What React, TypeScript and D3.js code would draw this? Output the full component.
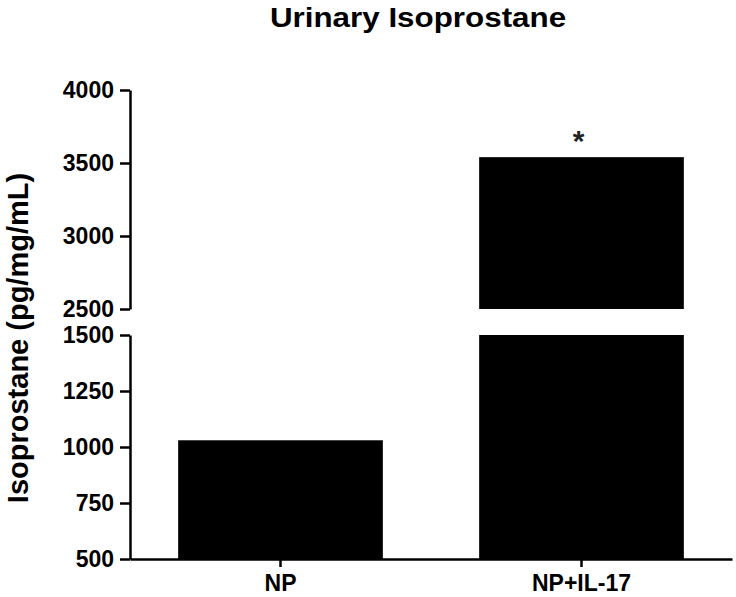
import { useEffect, useRef } from "react";
import * as d3 from "d3";

const groups = ["NP", "NP+IL-17"];
const values = [1030, 3540];
const upperTicks = [2500, 3000, 3500, 4000];
const lowerTicks = [500, 750, 1000, 1250, 1500];
const marks = ["", "*"];

export default function App() {
  const ref = useRef<SVGSVGElement>(null);

  useEffect(() => {
    const svg = d3.select(ref.current);
    svg.selectAll("*").remove();
    const font = "'Liberation Sans', Arial, Helvetica, sans-serif";

    const x = d3
      .scaleBand()
      .domain(groups)
      .range([130, 732])
      .paddingInner(0.32)
      .paddingOuter(0.16);
    const yTop = d3.scaleLinear().domain([2500, 4000]).range([309, 90]);
    const yBot = d3.scaleLinear().domain([500, 1500]).range([559, 335]);

    // bars (split across the break)
    const g = svg.append("g");
    groups.forEach((k, i) => {
      const v = values[i];
      const x0 = x(k)!;
      const w = x.bandwidth();
      const lowTop = Math.min(v, 1500);
      g.append("rect")
        .attr("x", x0)
        .attr("y", yBot(lowTop))
        .attr("width", w)
        .attr("height", yBot(500) - yBot(lowTop))
        .attr("fill", "#000");
      if (v > 2500) {
        g.append("rect")
          .attr("x", x0)
          .attr("y", yTop(v))
          .attr("width", w)
          .attr("height", yTop(2500) - yTop(v))
          .attr("fill", "#000");
      }
      if (marks[i]) {
        const top = v > 2500 ? yTop(v) : yBot(v);
        g.append("text")
          .attr("x", x0 + w / 2 - 3)
          .attr("y", top - 6)
          .attr("text-anchor", "middle")
          .attr("fill", "#222")
          .style("font-family", font)
          .style("font-size", "30px")
          .style("font-weight", "bold")
          .text(marks[i]);
      }
    });

    const styleAxis = (a: d3.Selection<SVGGElement, unknown, null, undefined>) => {
      a.selectAll("path").attr("stroke", "#000").attr("stroke-width", 2.5);
      a.selectAll("line").attr("stroke", "#000").attr("stroke-width", 2.5);
      a.selectAll("text")
        .attr("fill", "#000")
        .style("font-family", font)
        .style("font-size", "23px")
        .style("font-weight", "bold");
    };

    const fmt = d3.format("d");
    const aTop = svg
      .append("g")
      .attr("transform", "translate(130,0)")
      .call(
        d3.axisLeft(yTop).tickValues(upperTicks).tickFormat(fmt as any)
          .tickSize(10).tickPadding(6).tickSizeOuter(0)
      );
    styleAxis(aTop);
    const aBot = svg
      .append("g")
      .attr("transform", "translate(130,0)")
      .call(
        d3.axisLeft(yBot).tickValues(lowerTicks).tickFormat(fmt as any)
          .tickSize(10).tickPadding(6).tickSizeOuter(0)
      );
    styleAxis(aBot);

    const ax = svg
      .append("g")
      .attr("transform", `translate(0,${yBot(500)})`)
      .call(d3.axisBottom(x).tickSize(8).tickPadding(8).tickSizeOuter(0));
    styleAxis(ax);

    svg
      .append("text")
      .attr("transform", "translate(418,27) scale(1.12,1)")
      .attr("text-anchor", "middle")
      .style("font-family", font)
      .style("font-size", "28px")
      .style("font-weight", "bold")
      .text("Urinary Isoprostane");

    svg
      .append("text")
      .attr("transform", "translate(28,338) rotate(-90)")
      .attr("text-anchor", "middle")
      .style("font-family", font)
      .style("font-size", "29px")
      .style("font-weight", "bold")
      .text("Isoprostane (pg/mg/mL)");
  }, []);

  return (
    <svg
      ref={ref}
      width={736}
      height={597}
      style={{ position: "absolute", left: 0, top: 0, background: "#fff" }}
    />
  );
}
